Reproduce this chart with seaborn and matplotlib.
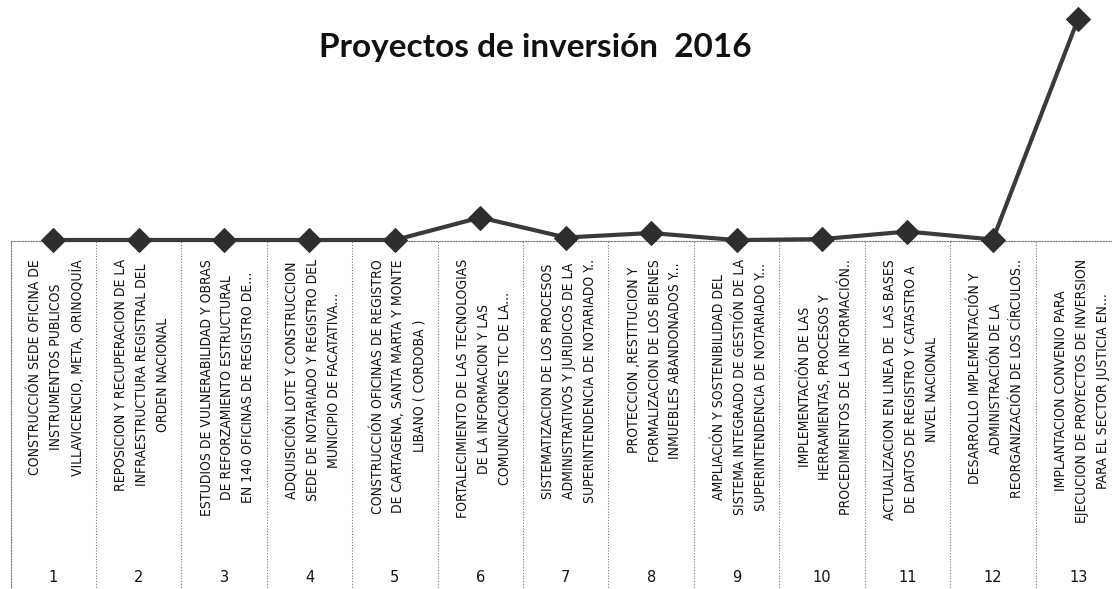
import matplotlib
matplotlib.use("Agg")
import matplotlib.pyplot as plt
import seaborn as sns
import pandas as pd
from matplotlib import font_manager as fm

# ---- data ----
numeros = [1, 2, 3, 4, 5, 6, 7, 8, 9, 10, 11, 12, 13]
valores = [0.5, 0.5, 0.5, 0.5, 0.5, 23, 3, 7.5, 0.4, 1.4, 9, 1, 222]
proyectos = [
    "CONSTRUCCIÓN SEDE OFICINA DE\nINSTRUMENTOS PUBLICOS\nVILLAVICENCIO, META, ORINOQUÍA",
    "REPOSICION Y RECUPERACION DE LA\nINFRAESTRUCTURA REGISTRAL DEL\nORDEN NACIONAL",
    "ESTUDIOS DE VULNERABILIDAD Y OBRAS\nDE REFORZAMIENTO ESTRUCTURAL\nEN 140 OFICINAS DE REGISTRO DE...",
    "ADQUISICIÓN LOTE Y CONSTRUCCION\nSEDE DE NOTARIADO Y REGISTRO DEL\nMUNICIPIO DE FACATATIVA...",
    "CONSTRUCCIÓN OFICINAS DE REGISTRO\nDE CARTAGENA, SANTA MARTA Y MONTE\nLIBANO ( CORDOBA )",
    "FORTALECIMIENTO DE LAS TECNOLOGIAS\nDE LA INFORMACION Y LAS\nCOMUNICACIONES TIC DE LA...",
    "SISTEMATIZACION DE LOS PROCESOS\nADMINISTRATIVOS Y JURIDICOS DE LA\nSUPERINTENDENCIA DE NOTARIADO Y..",
    "PROTECCION ,RESTITUCION Y\nFORMALIZACION DE LOS BIENES\nINMUEBLES ABANDONADOS Y...",
    "AMPLIACIÓN Y SOSTENIBILIDAD DEL\nSISTEMA INTEGRADO DE GESTIÓN DE LA\nSUPERINTENDENCIA DE NOTARIADO Y...",
    "IMPLEMENTACIÓN DE LAS\nHERRAMIENTAS, PROCESOS Y\nPROCEDIMIENTOS DE LA INFORMACIÓN..",
    "ACTUALIZACION EN LINEA DE  LAS BASES\nDE DATOS DE REGISTRO Y CATASTRO A\nNIVEL NACIONAL",
    "DESARROLLO IMPLEMENTACIÓN Y\nADMINISTRACIÓN DE LA\nREORGANIZACIÓN DE LOS CÍRCULOS..",
    "IMPLANTACION CONVENIO PARA\nEJECUCION DE PROYECTOS DE INVERSION\nPARA EL SECTOR JUSTICIA EN...",
]
titulo = "Proyectos de inversión  2016"

sns.set_theme(style="white")
names = {f.name for f in fm.fontManager.ttflist}
title_font = "Lato" if "Lato" in names else "DejaVu Sans"
plt.rcParams['font.family'] = ['DejaVu Sans']

W, H = 1112, 589
fig = plt.figure(figsize=(W / 100, H / 100), dpi=100)
fig.patch.set_facecolor("white")

left_px, right_px = 10.5, 1121
base_px = 240.5
ax_l = left_px / W
ax_w = (right_px - left_px) / W

# line axes
ax = fig.add_axes([ax_l, (H - base_px) / H, ax_w, base_px / H])
# label axes
axl = fig.add_axes([ax_l, -0.01, ax_w, (H - base_px) / H + 0.01])
axl.set_zorder(0)
ax.set_zorder(1)

df = pd.DataFrame({"pos": list(range(len(numeros))), "valor": valores})
sns.lineplot(data=df, x="pos", y="valor", ax=ax, color="#3a3a3a", linewidth=3,
             marker="D", markersize=12, markerfacecolor="#2e2e2e",
             markeredgecolor="#2e2e2e", clip_on=False, zorder=5)
ax.set_xlim(-0.5, len(numeros) - 0.5)
ax.set_ylim(0, base_px)
ax.axis("off")
ax.patch.set_alpha(0)

axl.set_xlim(-0.5, len(numeros) - 0.5)
axl.set_ylim(0, 1)
axl.set_xticks([])
axl.set_yticks([])
for s in ["right", "bottom"]:
    axl.spines[s].set_visible(False)
for s in ["left", "top"]:
    axl.spines[s].set_linestyle((0, (1, 1.5)))
    axl.spines[s].set_color("#777777")
    axl.spines[s].set_linewidth(0.8)
axl.patch.set_alpha(0)
for b in range(1, len(numeros)):
    axl.axvline(b - 0.5, color="#777777", linestyle=(0, (1, 1.5)), linewidth=0.8)

top_frac = (H - 253) / (H - base_px + 0.01 * H)
num_frac = (H - 577 + 0.01 * H) / (H - base_px + 0.01 * H)
for i, (n, txt) in enumerate(zip(numeros, proyectos)):
    axl.text(i + 0.04, top_frac, txt, rotation=90, ha="center", va="top",
             multialignment="center", fontsize=10, linespacing=1.62,
             fontstretch="condensed", color="#111111",
             transform=axl.get_xaxis_transform())
    axl.text(i, num_frac, str(n), ha="center", va="center", fontsize=10.5,
             color="#111111", transform=axl.get_xaxis_transform())

fig.text(535 / W, 1 - 47 / H, titulo, ha="center", va="center", fontsize=24,
         fontweight="bold", family=[title_font, "DejaVu Sans"], color="#111111")

fig.savefig("out.png", dpi=100)
